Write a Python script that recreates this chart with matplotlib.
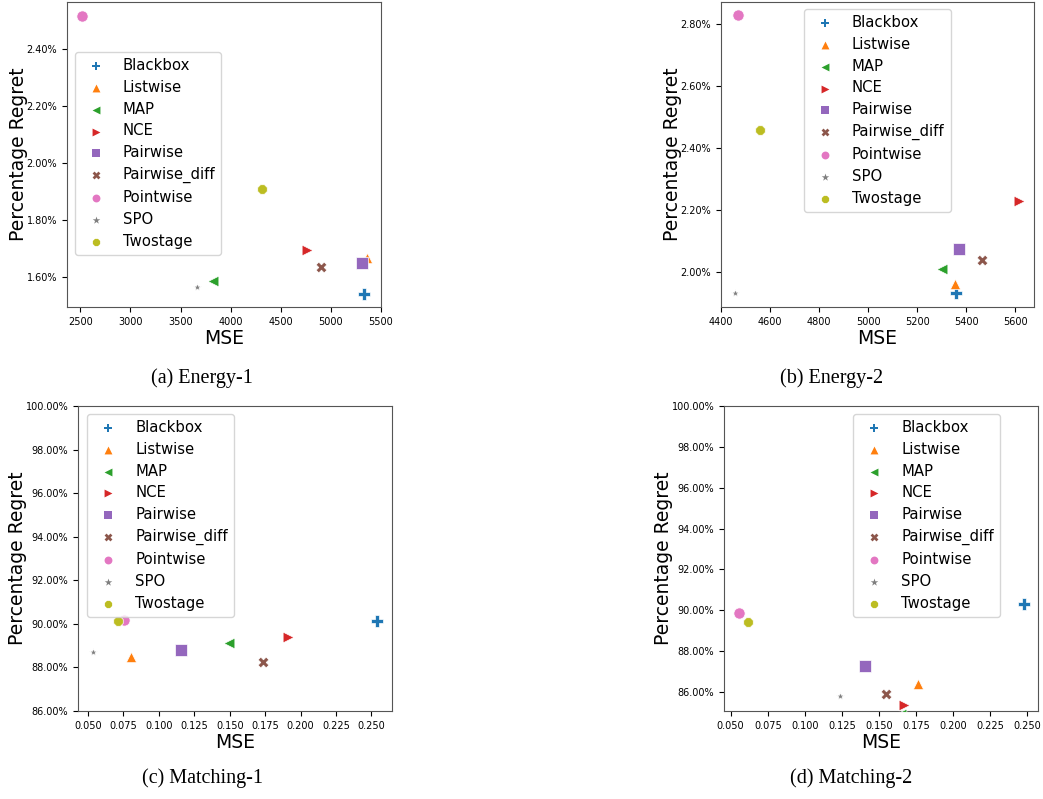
import matplotlib
matplotlib.use("Agg")
import matplotlib.pyplot as plt
from matplotlib.ticker import PercentFormatter

# methods, in legend order
methods = ["Blackbox", "Listwise", "MAP", "NCE", "Pairwise",
           "Pairwise_diff", "Pointwise", "SPO", "Twostage"]

# MSE / percentage regret for each dataset (same order as methods)
energy1_mse = [5330, 5360, 3820, 4765, 5310, 4905, 2515, 3660, 4312]
energy1_regret = [1.542, 1.666, 1.587, 1.694, 1.650, 1.635, 2.515, 1.565, 1.908]

energy2_mse = [5360, 5354, 5299, 5613, 5371, 5465, 4469, 4457, 4558]
energy2_regret = [1.934, 1.961, 2.010, 2.231, 2.076, 2.039, 2.828, 1.932, 2.459]

matching1_mse = [0.2543, 0.0806, 0.1493, 0.1915, 0.1159, 0.1733, 0.0754, 0.0533, 0.0712]
matching1_regret = [90.11, 88.48, 89.14, 89.40, 88.82, 88.25, 90.18, 88.72, 90.14]

# MAP falls below the visible range in Matching-2
matching2_mse = [0.2477, 0.1766, 0.1650, 0.1669, 0.1408, 0.1545, 0.0554, 0.1238, 0.0619]
matching2_regret = [90.33, 86.39, 84.9, 85.37, 87.27, 85.92, 89.89, 85.82, 89.45]

captions = ["(a) Energy-1", "(b) Energy-2", "(c) Matching-1", "(d) Matching-2"]

markers = {"Blackbox": "P", "Listwise": "^", "MAP": "<", "NCE": ">", "Pairwise": "s",
           "Pairwise_diff": "X", "Pointwise": "o", "SPO": "*", "Twostage": "8"}
sizes = {"Blackbox": 65, "Listwise": 55, "MAP": 60, "NCE": 60, "Pairwise": 75,
         "Pairwise_diff": 60, "Pointwise": 65, "SPO": 35, "Twostage": 55}
colors = plt.get_cmap("tab10").colors

W, H = 1043, 799
fig = plt.figure(figsize=(W / 100, H / 100), dpi=100)


def px_axes(left, top, right, bottom):
    return fig.add_axes([left / W, 1 - bottom / H, (right - left) / W, (bottom - top) / H])


def draw(ax, mse, regret, xlim, ylim, legend_xy):
    for i, m in enumerate(methods):
        ax.scatter(mse[i], regret[i], marker=markers[m], s=sizes[m], color=colors[i],
                   edgecolors="white", linewidths=0.5, label=m, zorder=3)
    ax.set_xlim(*xlim)
    ax.set_ylim(*ylim)
    ax.yaxis.set_major_formatter(PercentFormatter(xmax=100, decimals=2))
    ax.tick_params(labelsize=7)
    ax.set_xlabel("MSE", fontsize=13.5, labelpad=2)
    ax.set_ylabel("Percentage Regret", fontsize=13.5, labelpad=-1)
    leg = ax.legend(loc="upper left", bbox_to_anchor=legend_xy, borderaxespad=0,
                    fontsize=10.7, labelspacing=0.46, handletextpad=0.83)
    for h in leg.legend_handles:
        h.set_sizes([32])
        h.set_linewidth(0)
    for sp in ax.spines.values():
        sp.set_color("#555555")


ax_a = px_axes(67, 2, 381, 307)
draw(ax_a, energy1_mse, energy1_regret, (2367, 5500), (1.495, 2.563), (0.025, 0.836))
ax_a.set_yticks([1.6, 1.8, 2.0, 2.2, 2.4])
ax_a.set_xticks([2500, 3000, 3500, 4000, 4500, 5000, 5500])

ax_b = px_axes(721, 2, 1034, 307)
draw(ax_b, energy2_mse, energy2_regret, (4400, 5676), (1.888, 2.871), (0.265, 0.977))
ax_b.set_yticks([2.0, 2.2, 2.4, 2.6, 2.8])
ax_b.set_xticks([4400, 4600, 4800, 5000, 5200, 5400, 5600])

ax_c = px_axes(78, 406, 392, 711)
draw(ax_c, matching1_mse, matching1_regret, (0.0429, 0.2646), (86, 100), (0.029, 0.974))

ax_d = px_axes(724, 406, 1038, 711)
draw(ax_d, matching2_mse, matching2_regret, (0.0455, 0.2572), (85.07, 100), (0.411, 0.974))
ax_d.set_yticks([86, 88, 90, 92, 94, 96, 98, 100])

for ax in (ax_c, ax_d):
    ax.set_xticks([0.05, 0.075, 0.1, 0.125, 0.15, 0.175, 0.2, 0.225, 0.25])
    ax.set_xticklabels(["0.050", "0.075", "0.100", "0.125", "0.150", "0.175",
                        "0.200", "0.225", "0.250"])

cap_pos = [(202, 378), (832, 378), (202, 778), (851, 778)]
for (cx, cy), txt in zip(cap_pos, captions):
    fig.text(cx / W, 1 - cy / H, txt, ha="center", va="center",
             fontsize=14.5, family="Liberation Serif")

fig.savefig("out.png", dpi=100)
